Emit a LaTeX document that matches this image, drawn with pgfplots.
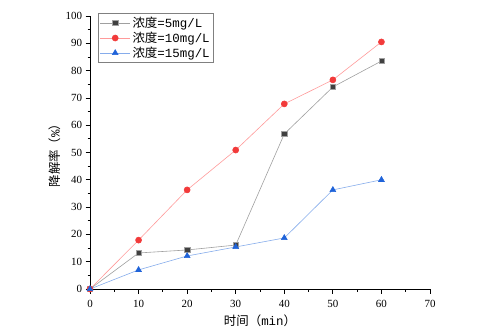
\documentclass[border=0pt]{standalone}
\usepackage{pgfplots}
\pgfplotsset{compat=1.18}
\usepackage{fontspec}
\setmainfont{Liberation Serif}
\newfontfamily\cjk{Noto Sans CJK SC}
\newfontfamily\mono{Liberation Mono}
\definecolor{sqfill}{HTML}{404040}
\definecolor{sqline}{HTML}{A0A0A0}
\definecolor{rdfill}{HTML}{F23A3A}
\definecolor{rdline}{HTML}{FF9A9A}
\definecolor{blfill}{HTML}{1F63D9}
\definecolor{blline}{HTML}{86ACEB}
\begin{document}
\begin{tikzpicture}[x=1bp,y=1bp]
\path[use as bounding box] (0,0) rectangle (500,335);
\begin{axis}[
  at={(90bp,46bp)}, anchor=south west,
  scale only axis, width=340bp, height=273bp,
  xmin=0, xmax=70, ymin=0, ymax=100,
  axis x line*=bottom, axis y line*=left,
  axis line style={line width=0.9pt, -},
  xtick={0,10,...,70}, ytick={0,10,...,100},
  minor tick num=1,
  tick align=outside,
  major tick length=4.5bp, minor tick length=2.5bp,
  tick style={line width=0.8pt, black},
  tick label style={font=\fontsize{11}{11}\selectfont},
  xticklabel style={yshift=-3bp},
  /pgf/number format/assume math mode=true,
  xlabel={{\cjk 时间（}{\mono min}{\cjk ）}}, ylabel={{\cjk 降解率（}{\mono \%}{\cjk ）}},
  label style={font=\fontsize{12.5}{12.5}\selectfont},
  xlabel style={yshift=-1bp},
  ylabel style={yshift=-2bp},
  clip=false,
  legend image code/.code={\draw[mark repeat=2,mark phase=2] plot coordinates {(0bp,0bp)(15bp,0bp)(30bp,0bp)};},
  legend style={at={(0.024,1.01)}, anchor=north west, draw=gray, line width=0.5pt,
    font=\fontsize{12.5}{12.5}\selectfont, row sep=-1bp, inner sep=1.5bp},
  legend cell align=left,
]
\addplot[sqline, line width=0.6pt, mark=square*, mark size=2.6bp, mark options={fill=sqfill, draw=sqline, line width=0.4pt}]
coordinates {(0,0) (10,13.2) (20,14.3) (30,16.1) (40,56.8) (50,74) (60,83.5)};
\addlegendentry{{\cjk 浓度}{\mono =5mg/L}}
\addplot[rdline, line width=0.6pt, mark=*, mark size=3bp, mark options={fill=rdfill, draw=rdfill}]
coordinates {(0,0) (10,17.9) (20,36.3) (30,50.9) (40,67.8) (50,76.6) (60,90.5)};
\addlegendentry{{\cjk 浓度}{\mono =10mg/L}}
\addplot[blline, line width=0.6pt, mark=triangle*, mark size=3.3bp, mark options={fill=blfill, draw=blfill}]
coordinates {(0,0) (10,7) (20,12.1) (30,15.4) (40,18.7) (50,36.3) (60,40)};
\addlegendentry{{\cjk 浓度}{\mono =15mg/L}}
\end{axis}
\end{tikzpicture}
\end{document}
